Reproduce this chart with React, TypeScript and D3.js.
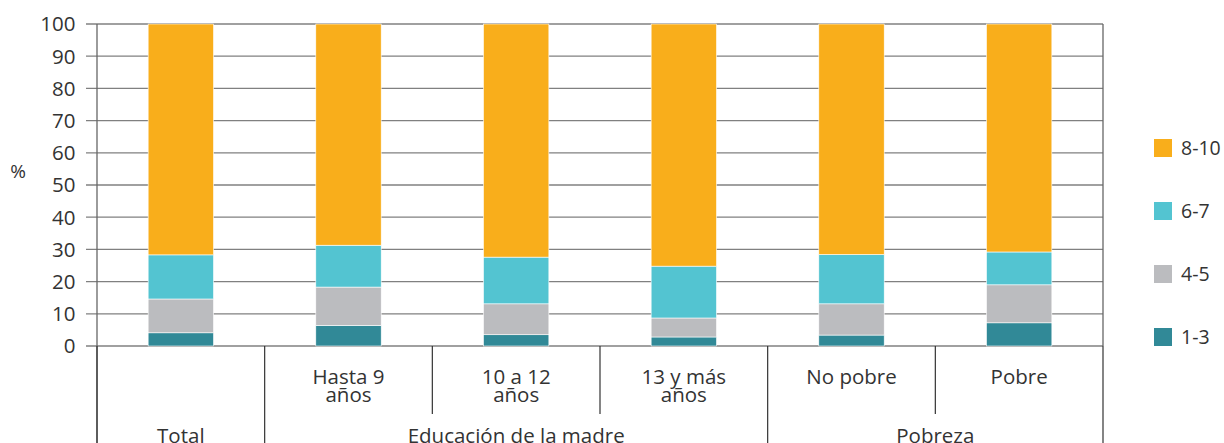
import React, { useEffect, useRef } from "react";
import * as d3 from "d3";

// categories along the x axis, two lines where the label wraps
const categories = ["Total", "Hasta 9 años", "10 a 12 años", "13 y más años", "No pobre", "Pobre"];
const categoryLines = [[""], ["Hasta 9", "años"], ["10 a 12", "años"], ["13 y más", "años"], ["No pobre"], ["Pobre"]];

// groups under the categories: label, first and last category index
const groupNames = ["Total", "Educación de la madre", "Pobreza"];
const groupStart = [0, 1, 4];
const groupEnd = [0, 3, 5];

// series, from the bottom of the stack up
const seriesKeys = ["1-3", "4-5", "6-7", "8-10"];
const seriesColors = ["#318997", "#bbbcbf", "#53c4d1", "#f9ae1b"];
const values13 = [4.1, 6.4, 3.5, 2.8, 3.4, 7.2];
const values45 = [10.5, 11.9, 9.6, 5.9, 9.7, 11.8];
const values67 = [13.7, 13.0, 14.5, 16.1, 15.3, 10.2];
const values810 = [71.7, 68.7, 72.4, 75.2, 71.6, 70.8];

const yTicks = [0, 10, 20, 30, 40, 50, 60, 70, 80, 90, 100];

const FONT = "'Open Sans', 'Noto Sans', sans-serif";
const TEXT = "#333333";
const FS = 20.5;

const StackedChart = () => {
    const svgRef = useRef<SVGSVGElement | null>(null);

    useEffect(() => {
        const width = 1224;
        const height = 443;
        const margin = { top: 24, right: 121, bottom: 97, left: 97 };
        const plotBottom = height - margin.bottom;

        const svg = d3.select(svgRef.current);
        svg.selectAll("*").remove();
        svg.attr("width", width).attr("height", height);

        const rows = categories.map((c, i) => ({
            category: c,
            "1-3": values13[i],
            "4-5": values45[i],
            "6-7": values67[i],
            "8-10": values810[i],
        }));

        const x = d3.scaleBand()
            .domain(categories)
            .range([margin.left, width - margin.right])
            .padding(0);

        const y = d3.scaleLinear()
            .domain([0, 100])
            .range([plotBottom, margin.top]);

        const color = d3.scaleOrdinal<string, string>().domain(seriesKeys).range(seriesColors);

        // Gridlines with their little ticks on the left.
        svg.append("g")
            .selectAll("line")
            .data(yTicks)
            .enter()
            .append("line")
            .attr("x1", margin.left - 11)
            .attr("x2", width - margin.right)
            .attr("y1", d => y(d))
            .attr("y2", d => y(d))
            .attr("stroke", "#808080")
            .attr("stroke-width", 1.3);

        // Y tick labels.
        svg.append("g")
            .selectAll("text")
            .data(yTicks)
            .enter()
            .append("text")
            .attr("x", 75.5)
            .attr("y", d => y(d))
            .attr("dy", "0.36em")
            .attr("text-anchor", "end")
            .attr("font-family", FONT)
            .attr("font-size", FS)
            .attr("fill", TEXT)
            .text(d => d);

        // "%" axis title.
        svg.append("text")
            .attr("x", 18)
            .attr("y", 178)
            .attr("text-anchor", "middle")
            .attr("font-family", FONT)
            .attr("font-size", FS - 1.5)
            .attr("fill", TEXT)
            .text("%");

        // Stacked bars.
        const stacked = d3.stack<any>().keys(seriesKeys)(rows);
        const barWidth = x.bandwidth() * 0.39;

        svg.append("g")
            .selectAll("g")
            .data(stacked)
            .enter()
            .append("g")
            .attr("fill", d => color(d.key))
            .selectAll("rect")
            .data(d => d)
            .enter()
            .append("rect")
            .attr("x", d => (x(d.data.category) as number) + (x.bandwidth() - barWidth) / 2)
            .attr("y", d => y(d[1]))
            .attr("width", barWidth)
            .attr("height", d => y(d[0]) - y(d[1]))
            .attr("stroke", "#ffffff")
            .attr("stroke-width", 0.6);

        // Left axis line and right border.
        svg.append("line")
            .attr("x1", margin.left).attr("x2", margin.left)
            .attr("y1", margin.top).attr("y2", height)
            .attr("stroke", "#666666").attr("stroke-width", 1.3);
        svg.append("line")
            .attr("x1", width - margin.right).attr("x2", width - margin.right)
            .attr("y1", margin.top).attr("y2", plotBottom)
            .attr("stroke", "#666666").attr("stroke-width", 1.3);

        // Separators between categories under the axis.
        const groupEdges = new Set<number>();
        groupStart.forEach(s => groupEdges.add(s));
        groupEnd.forEach(e => groupEdges.add(e + 1));
        const edges = d3.range(categories.length + 1);
        svg.append("g")
            .selectAll("line")
            .data(edges)
            .enter()
            .append("line")
            .attr("x1", i => margin.left + i * x.step())
            .attr("x2", i => margin.left + i * x.step())
            .attr("y1", plotBottom)
            .attr("y2", i => (groupEdges.has(i) ? height : 414))
            .attr("stroke", "#333333")
            .attr("stroke-width", 1.2);

        // Category labels.
        const catLabels = svg.append("g")
            .selectAll("text")
            .data(categories)
            .enter()
            .append("text")
            .attr("x", d => (x(d) as number) + x.bandwidth() / 2)
            .attr("text-anchor", "middle")
            .attr("font-family", FONT)
            .attr("font-size", FS)
            .attr("fill", TEXT);
        catLabels.each(function (d, i) {
            const lines = categoryLines[i];
            lines.forEach((line, j) => {
                d3.select(this)
                    .append("tspan")
                    .attr("x", (x(d) as number) + x.bandwidth() / 2)
                    .attr("y", 383.5 + j * 18)
                    .text(line);
            });
        });

        // Group labels.
        svg.append("g")
            .selectAll("text")
            .data(groupNames)
            .enter()
            .append("text")
            .attr("x", (d, i) => {
                const x0 = x(categories[groupStart[i]]) as number;
                const x1 = (x(categories[groupEnd[i]]) as number) + x.bandwidth();
                return (x0 + x1) / 2;
            })
            .attr("y", 442.5)
            .attr("text-anchor", "middle")
            .attr("font-family", FONT)
            .attr("font-size", FS)
            .attr("fill", TEXT)
            .text(d => d);

        // Legend, top series first.
        const legendKeys = seriesKeys.slice().reverse();
        const legend = svg.append("g")
            .selectAll("g")
            .data(legendKeys)
            .enter()
            .append("g")
            .attr("transform", (d, i) => `translate(1154, ${139 + i * 63})`);
        legend.append("rect")
            .attr("width", 18)
            .attr("height", 18)
            .attr("fill", d => color(d));
        legend.append("text")
            .attr("x", 27)
            .attr("y", 9)
            .attr("dy", "0.36em")
            .attr("font-family", FONT)
            .attr("font-size", 19.5)
            .attr("fill", TEXT)
            .text(d => d);
    }, []);

    return <svg ref={svgRef} style={{ display: "block" }} />;
};

export default function App() {
    return (
        <div style={{ position: "fixed", left: 0, top: 0, width: 1224, height: 443, overflow: "hidden", background: "#fff" }}>
            <StackedChart />
        </div>
    );
}
